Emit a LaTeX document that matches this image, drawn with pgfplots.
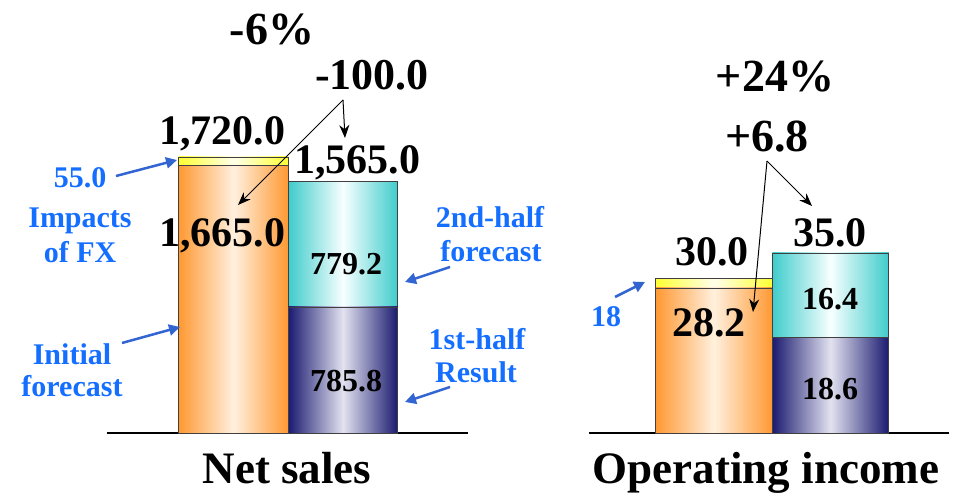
\documentclass[border=0pt]{standalone}
\usepackage{pgfplots}
\pgfplotsset{compat=1.18}
\usepackage{fontspec}
\setmainfont{Liberation Serif}
\usetikzlibrary{arrows.meta}
\definecolor{orgE}{RGB}{255,153,51}
\definecolor{orgC}{RGB}{255,240,222}
\definecolor{cyaE}{RGB}{64,204,204}
\definecolor{cyaC}{RGB}{248,255,255}
\definecolor{navE}{RGB}{26,26,112}
\definecolor{navC}{RGB}{226,226,240}
\definecolor{yelE}{RGB}{255,255,51}
\definecolor{yelC}{RGB}{255,255,235}
\definecolor{lblue}{RGB}{20,110,255}
\definecolor{ablue}{RGB}{50,100,210}
\newcommand{\fs}[1]{\fontsize{#1}{#1}\selectfont\bfseries}
\pgfplotsset{
  panel/.style={scale only axis, ymin=0, axis x line*=bottom, axis y line=none,
    xtick=\empty, ytick=\empty, axis line style={line width=1.3pt, black}, clip=false},
  sbar/.style={ybar, bar width=1, bar shift=0pt, draw=black!75, line width=0.8pt},
  orgbar/.style={sbar, left color=orgE, right color=orgE, middle color=orgC},
  yelbar/.style={sbar, left color=yelE, right color=yelE, middle color=yelC},
  cyabar/.style={sbar, left color=cyaE, right color=cyaE, middle color=cyaC},
  navbar/.style={sbar, left color=navE, right color=navE, middle color=navC},
}
\begin{document}
\begin{tikzpicture}[x=1pt,y=1pt]
\path[use as bounding box] (0,0) rectangle (956,497);
% Net sales
\begin{axis}[panel, at={(233.5pt,64pt)}, anchor=origin, width=361pt, height=276pt,
  xmin=-1.155, xmax=2.14, ymax=1720]
\addplot[yelbar] coordinates {(0,1720.0)};   % initial forecast + FX (55.0)
\addplot[orgbar] coordinates {(0,1665.0)};   % initial forecast
\addplot[cyabar] coordinates {(1,1565.0)};   % 1st half + 2nd half forecast (779.2)
\addplot[navbar] coordinates {(1,785.8)};    % 1st-half result
\end{axis}
% Operating income
\begin{axis}[panel, at={(714pt,64pt)}, anchor=origin, width=360pt, height=180pt,
  xmin=-1.073, xmax=2.017, ymax=35]
\addplot[yelbar] coordinates {(0,30.0)};
\addplot[orgbar] coordinates {(0,28.2)};
\addplot[cyabar] coordinates {(1,35.0)};
\addplot[navbar] coordinates {(1,18.6)};
\end{axis}
% black labels
\node[anchor=base, font=\fs{46}] at (272,452) {-6\%};
\node[anchor=base, font=\fs{44}] at (372,407) {-100.0};
\node[anchor=base, font=\fs{42}] at (222,352) {1,720.0};
\node[anchor=base, font=\fs{42}] at (357,323) {1,565.0};
\node[anchor=base, font=\fs{42}] at (222,250) {1,665.0};
\node[anchor=base, font=\fs{32}] at (346,222) {779.2};
\node[anchor=base, font=\fs{32}] at (346,105) {785.8};
\node[anchor=base, font=\fs{46}] at (775,405) {+24\%};
\node[anchor=base, font=\fs{46}] at (767,345) {+6.8};
\node[anchor=base, font=\fs{42}] at (712,231) {30.0};
\node[anchor=base, font=\fs{42}] at (830,250) {35.0};
\node[anchor=base, font=\fs{42}] at (709,160) {28.2};
\node[anchor=base, font=\fs{32}] at (830,187) {16.4};
\node[anchor=base, font=\fs{32}] at (830,97) {18.6};
\node[anchor=base, font=\fs{45}] at (287,13) {Net sales};
\node[anchor=base, font=\fs{45}] at (766,13) {Operating income};
% blue labels
\begin{scope}[every node/.style={anchor=base, font=\fs{30}, text=lblue}]
\node at (80,309) {55.0};
\node at (80,269) {Impacts};
\node at (80,234) {of FX};
\node at (72,132) {Initial};
\node at (72,100) {forecast};
\node at (490,269) {2nd-half};
\node at (491,235) {forecast};
\node at (477,147) {1st-half};
\node at (476,114) {Result};
\node at (606,170) {18};
\end{scope}
% black arrows
\begin{scope}[line width=1pt, -{Stealth[length=13pt,width=10pt]}]
\draw (343,397) -- (238,292);
\draw (343,397) -- (345,359);
\draw (767,336) -- (753,185);
\draw (767,336) -- (812,291);
\end{scope}
% blue arrows
\begin{scope}[ablue, line width=2.5pt, -{Triangle[length=11pt,width=11pt]}]
\draw (116,321) -- (177,337);
\draw (122,154) -- (180,170);
\draw (450,230) -- (405,215);
\draw (450,110) -- (405,95);
\draw (615,200) -- (645,215);
\end{scope}
\end{tikzpicture}
\end{document}
